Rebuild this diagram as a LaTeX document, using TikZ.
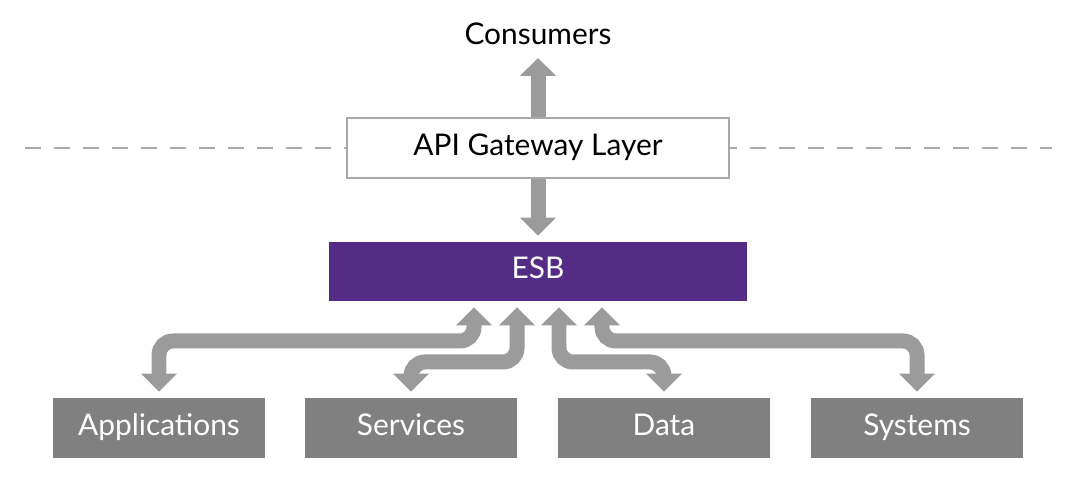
\documentclass[tikz,border=0pt]{standalone}
\usepackage{fontspec}
\setmainfont{Lato}
\usepackage{tikz}
\usetikzlibrary{arrows.meta}

\definecolor{esbpurple}{HTML}{552C85}
\definecolor{boxgray}{HTML}{808080}
\definecolor{arrowgray}{HTML}{9B9B9B}
\definecolor{linegray}{HTML}{A9A9A9}

\begin{document}
\begin{tikzpicture}[
                x=0.02cm, y=-0.02cm,          % 1 unit = 1 px, y downwards
                every node/.style={
                    font=\fontsize{17}{20}\selectfont,
                    inner sep=0pt,
                    text height=0.8em,
                    text depth=0pt
                },
                box/.style={
                    fill=boxgray,
                    text=white,
                    minimum width=4.24cm,
                    minimum height=1.22cm
                },
                fat/.style={
                    draw=arrowgray,
                    line width=0.3cm,
                    -{Triangle[width=0.7cm,length=0.36cm]}
                },
                bus/.style={
                    fat,
                    {Triangle[width=0.7cm,length=0.36cm]}-{Triangle[width=0.7cm,length=0.36cm]},
                    rounded corners=0.28cm,
                    shorten <=0.11cm,
                    shorten >=0.12cm
                },
                sep/.style={draw=linegray, line width=0.04cm, dash pattern=on 0.32cm off 0.26cm}
            ]
                \useasboundingbox (0,0) rectangle (1076,489);

                % separator
                \draw[sep] (25,148) -- (1052,148);

                % nodes
                \node (cons) at (538,37) {Consumers};
                \node[draw=linegray, line width=0.04cm, fill=white, minimum width=7.64cm, minimum height=1.22cm] (gw) at (538,148) {API Gateway Layer};
                \node[fill=esbpurple, text=white, minimum width=8.36cm, minimum height=1.18cm] (esb) at (538,271.5) {ESB};
                \node[box] (apps) at (159,428) {Applications};
                \node[box] (serv) at (411,428) {Services};
                \node[box] (data) at (664,428) {Data};
                \node[box] (sys)  at (917,428) {Systems};

                % arrow ends and lanes
                \coordinate (top) at (538,58);
                \coordinate (esbA) at ([xshift=-1.28cm]esb.south);
                \coordinate (esbB) at ([xshift=-0.42cm]esb.south);
                \coordinate (esbC) at ([xshift=0.42cm]esb.south);
                \coordinate (esbD) at ([xshift=1.28cm]esb.south);
                \coordinate (laneout) at (0,341);
                \coordinate (lanein) at (0,362);

                % arrows
                \draw[fat] (gw.north) -- (top);
                \draw[fat, shorten >=0.12cm] (gw.south) -- (esb.north);
                \draw[bus] (apps.north) -- (apps.north |- laneout) -- (esbA |- laneout) -- (esbA);
                \draw[bus] (serv.north) -- (serv.north |- lanein) -- (esbB |- lanein) -- (esbB);
                \draw[bus] (data.north) -- (data.north |- lanein) -- (esbC |- lanein) -- (esbC);
                \draw[bus] (sys.north) -- (sys.north |- laneout) -- (esbD |- laneout) -- (esbD);
            \end{tikzpicture}
\end{document}
